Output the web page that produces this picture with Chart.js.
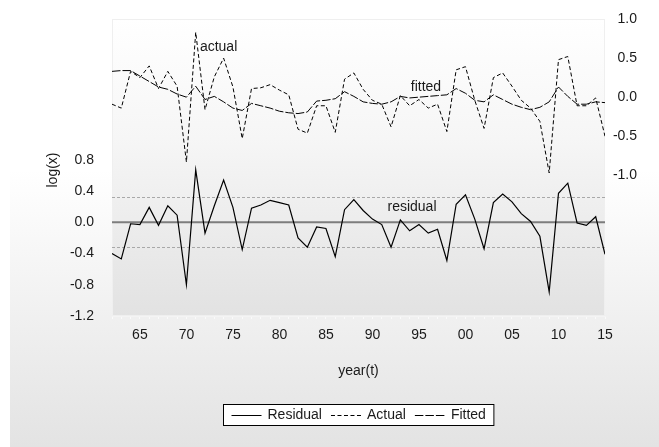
<!DOCTYPE html>
<html>
<head>
<meta charset="utf-8">
<script src="https://cdn.jsdelivr.net/npm/chart.js@4/dist/chart.umd.min.js"></script>
<style>
  html, body { margin: 0; padding: 0; background: #ffffff; }
  #wrap { width: 659px; height: 447px; position: relative; }
</style>
</head>
<body>
<div id="wrap"><canvas id="chart" width="659" height="447"></canvas></div>
<script>
// Sample years
const years = [
  1962, 1963, 1964, 1965, 1966, 1967, 1968, 1969, 1970, 1971,
  1972, 1973, 1974, 1975, 1976, 1977, 1978, 1979, 1980, 1981,
  1982, 1983, 1984, 1985, 1986, 1987, 1988, 1989, 1990, 1991,
  1992, 1993, 1994, 1995, 1996, 1997, 1998, 1999, 2000, 2001,
  2002, 2003, 2004, 2005, 2006, 2007, 2008, 2009, 2010, 2011,
  2012, 2013, 2014, 2015
];

// Actual log(x), right axis
const actual = [
  -0.09, -0.14, 0.33, 0.25, 0.40, 0.11, 0.33, 0.14, -0.83, 0.83,
  -0.16, 0.26, 0.50, 0.13, -0.53, 0.11, 0.12, 0.16, 0.09, 0.03,
  -0.41, -0.46, -0.11, -0.11, -0.45, 0.23, 0.31, 0.10, -0.04, -0.09,
  -0.38, 0.02, -0.11, -0.03, -0.14, -0.09, -0.44, 0.35, 0.39, -0.04,
  -0.40, 0.25, 0.31, 0.14, -0.04, -0.14, -0.31, -0.97, 0.48, 0.52,
  -0.11, -0.11, -0.01, -0.50
];

// Fitted log(x), right axis
const fitted = [
  0.33, 0.34, 0.34, 0.27, 0.20, 0.13, 0.10, 0.04, 0.00, 0.14,
  -0.03, 0.01, -0.06, -0.14, -0.17, -0.08, -0.11, -0.14, -0.18, -0.20,
  -0.21, -0.19, -0.05, -0.04, -0.02, 0.07, 0.01, -0.06, -0.08, -0.09,
  -0.06, 0.01, -0.01, 0.00, 0.01, 0.02, 0.03, 0.11, 0.05, -0.04,
  -0.06, 0.03, -0.03, -0.09, -0.13, -0.16, -0.13, -0.06, 0.13, 0.01,
  -0.09, -0.09, -0.06, -0.07
];

// Residuals, left axis
const residual = [
  -0.40, -0.47, -0.02, -0.03, 0.19, -0.04, 0.21, 0.09, -0.80, 0.67,
  -0.14, 0.21, 0.54, 0.19, -0.35, 0.18, 0.22, 0.28, 0.25, 0.22,
  -0.20, -0.32, -0.06, -0.08, -0.44, 0.16, 0.29, 0.15, 0.04, -0.03,
  -0.32, 0.03, -0.11, -0.03, -0.14, -0.09, -0.49, 0.23, 0.35, 0.04,
  -0.34, 0.25, 0.36, 0.26, 0.11, 0.01, -0.18, -0.89, 0.37, 0.50,
  -0.01, -0.04, 0.07, -0.41
];

// Axis ticks
const yearTicks = [1965, 1970, 1975, 1980, 1985, 1990, 1995, 2000, 2005, 2010, 2015];
const residualTicks = [-1.2, -0.8, -0.4, 0.0, 0.4, 0.8];
const levelTicks = [-1.0, -0.5, 0.0, 0.5, 1.0];

// Residual standard error band
const residualBand = 0.32;

const FONT = '"Liberation Sans", Arial, sans-serif';
const TEXT = '#1a1a1a';

const toPoints = vals => years.map((yr, i) => ({ x: yr, y: vals[i] }));

// Page and plot backgrounds
const backdrop = {
  id: 'backdrop',
  beforeDraw(chart) {
    const { ctx, width, height, chartArea: a } = chart;
    ctx.save();
    ctx.fillStyle = '#ffffff';
    ctx.fillRect(0, 0, width, height);
    let g = ctx.createLinearGradient(0, 170, 0, height);
    g.addColorStop(0, '#ffffff');
    g.addColorStop(1, '#e3e3e3');
    ctx.fillStyle = g;
    ctx.fillRect(10, 0, width - 10, height);
    g = ctx.createLinearGradient(0, a.top, 0, a.bottom);
    g.addColorStop(0, '#ffffff');
    g.addColorStop(0.4, '#f6f6f6');
    g.addColorStop(1, '#e2e2e2');
    ctx.fillStyle = g;
    ctx.fillRect(a.left, a.top, a.right - a.left, a.bottom - a.top);
    ctx.strokeStyle = '#efefef';
    ctx.lineWidth = 1;
    ctx.strokeRect(a.left + 0.5, a.top + 0.5, a.right - a.left - 1, a.bottom - a.top - 1);
    ctx.restore();
  }
};

// Zero line and +/- standard error lines on the residual axis
const residualGuides = {
  id: 'residualGuides',
  beforeDatasetsDraw(chart) {
    const { ctx, chartArea: a, scales } = chart;
    const s = scales.yRes;
    ctx.save();
    const y0 = s.getPixelForValue(0);
    ctx.strokeStyle = '#7d7d7d';
    ctx.lineWidth = 2;
    ctx.beginPath();
    ctx.moveTo(a.left, y0);
    ctx.lineTo(a.right, y0);
    ctx.stroke();
    ctx.strokeStyle = '#a8a8a8';
    ctx.lineWidth = 1;
    ctx.setLineDash([3, 2]);
    [residualBand, -residualBand].forEach(v => {
      const y = Math.round(s.getPixelForValue(v)) + 0.5;
      ctx.beginPath();
      ctx.moveTo(a.left, y);
      ctx.lineTo(a.right, y);
      ctx.stroke();
    });
    ctx.restore();
  }
};

// Series tags, axis titles and the boxed legend
const annotations = {
  id: 'annotations',
  afterDraw(chart) {
    const { ctx, chartArea: a, scales } = chart;
    const xs = scales.x, yr = scales.yRes, yl = scales.yLev;
    ctx.save();
    ctx.fillStyle = TEXT;
    ctx.font = '14px ' + FONT;
    ctx.textBaseline = 'middle';

    ctx.textAlign = 'left';
    ctx.fillText('actual', xs.getPixelForValue(1971.45), yl.getPixelForValue(0.64));
    ctx.textAlign = 'center';
    ctx.fillText('fitted', xs.getPixelForValue(1995.75), yl.getPixelForValue(0.13));
    ctx.fillText('residual', xs.getPixelForValue(1994.25), yr.getPixelForValue(0.19));

    // x-axis title
    const cx = (a.left + a.right) / 2;
    ctx.fillText('year(t)', cx, 371);

    // y-axis title
    ctx.save();
    ctx.translate(53, 170);
    ctx.rotate(-Math.PI / 2);
    ctx.fillText('log(x)', 0, 0);
    ctx.restore();

    // legend
    const sample = 30, gapText = 6, gapItem = 9, pad = 8.5;
    const items = chart.data.datasets.map(d => ({
      label: d.label, dash: d.borderDash || [], w: ctx.measureText(d.label).width
    }));
    let total = pad * 2 + gapItem * (items.length - 1);
    items.forEach(it => { total += sample + gapText + it.w; });
    const bx = Math.round(cx - total / 2), by = 404, bh = 22;
    ctx.fillStyle = '#ffffff';
    ctx.fillRect(bx, by, total, bh);
    ctx.strokeStyle = '#000000';
    ctx.lineWidth = 1;
    ctx.strokeRect(bx + 0.5, by + 0.5, total - 1, bh - 1);
    let x = bx + pad;
    const ly = by + bh / 2;
    ctx.textAlign = 'left';
    items.forEach(it => {
      ctx.setLineDash(it.dash);
      ctx.beginPath();
      ctx.moveTo(x, Math.round(ly) + 0.5);
      ctx.lineTo(x + sample, Math.round(ly) + 0.5);
      ctx.stroke();
      ctx.setLineDash([]);
      x += sample + gapText;
      ctx.fillStyle = TEXT;
      ctx.fillText(it.label, x, ly + 0.5);
      x += it.w + gapItem;
    });
    ctx.restore();
  }
};

new Chart(document.getElementById('chart'), {
  type: 'line',
  data: {
    datasets: [
      {
        label: 'Residual', data: toPoints(residual), yAxisID: 'yRes',
        borderColor: '#000000', borderWidth: 1.2, borderDash: [],
        pointRadius: 0, tension: 0, fill: false
      },
      {
        label: 'Actual', data: toPoints(actual), yAxisID: 'yLev',
        borderColor: '#000000', borderWidth: 1, borderDash: [4, 2.5],
        pointRadius: 0, tension: 0, fill: false
      },
      {
        label: 'Fitted', data: toPoints(fitted), yAxisID: 'yLev',
        borderColor: '#000000', borderWidth: 1, borderDash: [8.5, 2],
        pointRadius: 0, tension: 0, fill: false
      }
    ]
  },
  options: {
    responsive: false,
    animation: false,
    devicePixelRatio: 1,
    layout: { padding: { top: 19, left: 0, right: 22, bottom: 0 } },
    plugins: { legend: { display: false }, tooltip: { enabled: false } },
    scales: {
      x: {
        type: 'linear', position: 'bottom', min: 1962, max: 2015,
        afterBuildTicks: s => { s.ticks = years.map(v => ({ value: v })); },
        grid: { drawOnChartArea: false, drawTicks: true, tickLength: 3, color: '#fafafa' },
        border: { display: true, color: '#f4f4f4' },
        ticks: {
          autoSkip: false, maxRotation: 0, minRotation: 0, padding: 8,
          color: TEXT, font: { family: FONT, size: 14 },
          callback: v => yearTicks.includes(v) ? String(v % 100).padStart(2, '0') : ''
        },
        afterFit: s => { s.height = 131; }
      },
      yRes: {
        type: 'linear', position: 'left', min: -1.2, max: 2.6,
        afterBuildTicks: s => { s.ticks = residualTicks.map(v => ({ value: v })); },
        grid: { display: false }, border: { display: false },
        ticks: {
          padding: 10, color: TEXT, font: { family: FONT, size: 14 },
          callback: v => v.toFixed(1)
        },
        afterFit: s => { s.width = 112; }
      },
      yLev: {
        type: 'linear', position: 'right', min: -2.8, max: 1.0,
        afterBuildTicks: s => { s.ticks = levelTicks.map(v => ({ value: v })); },
        grid: { display: false }, border: { display: false },
        ticks: {
          padding: 8, crossAlign: 'far', color: TEXT, font: { family: FONT, size: 14 },
          callback: v => v.toFixed(1)
        },
        afterFit: s => { s.width = 32; }
      }
    }
  },
  plugins: [backdrop, residualGuides, annotations]
});
</script>
</body>
</html>
